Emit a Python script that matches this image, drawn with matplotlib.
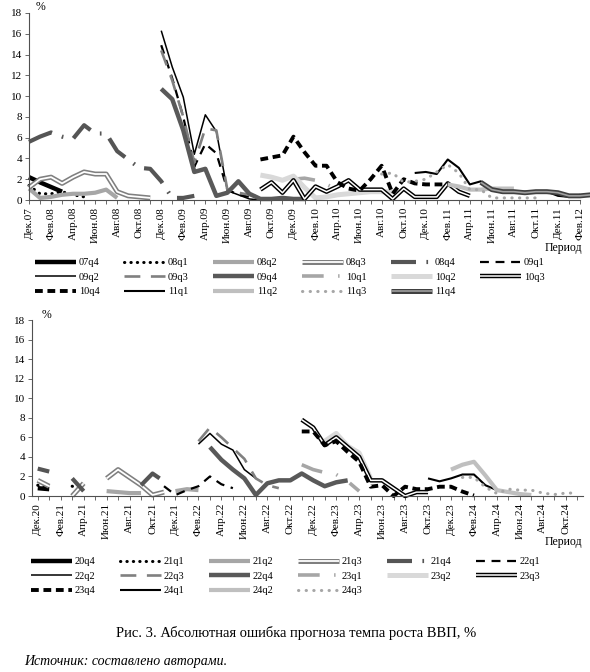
import numpy as np
import matplotlib
matplotlib.use('Agg')
import matplotlib.pyplot as plt
import matplotlib.patheffects as pe

plt.rcParams['font.family'] = ['Liberation Serif', 'DejaVu Serif']

# ---- top panel, months from Dec.07 (index 0) to Feb.12 (index 50)
top_names = ['07q4', '08q1', '08q2', '08q3', '08q4', '09q1', '09q2', '09q3', '09q4',
             '10q1', '10q2', '10q3', '10q4', '11q1', '11q2', '11q3', '11q4']
v07q4 = [2.2, 1.7, 1.25, 0.8]
v08q1 = [1.4, 0.6, 0.6, 0.8, 0.5, 0.3]
v08q2 = [1.1, 0.2, 0.3, 0.5, 0.6, 0.6, 0.7, 1.0, 0.2]
v08q3 = [1.2, 2.0, 2.2, 1.6, 2.2, 2.7, 2.5, 2.5, 0.8, 0.4, 0.3, 0.2]
v08q4 = [5.6, 6.1, 6.5, 6.1, 5.9, 7.2, 6.4, 6.4, 4.7, 3.9, 3.1, 3.0, 1.8, 0.2, 0.2, 0.4]
v09q1 = [14.9, 11.7, 8.0, 3.2, 5.4, 4.5, 1.0, 0.5, 0.3]
v09q2 = [16.3, 12.8, 9.9, 4.4, 8.2, 6.6, 0.9, 0.5, 0.1, 0.0]
v09q3 = [14.4, 11.5, 8.0, 3.6, 6.9, 6.7, 1.0, 0.7, 0.5, 0.3]
v09q4 = [10.7, 9.7, 6.7, 2.7, 3.0, 0.4, 0.7, 1.8, 0.6, 0.1, 0.1, 0.2, 0.1, 0.1]
v10q1 = [2.0, 2.1, 1.9, 1.5, 1.0]
v10q2 = [2.4, 2.2, 1.9, 2.3, 1.2, 0.2, 0.3, 0.5, 0.6, 0.7, 0.8, 0.8, 0.8]
v10q3 = [1.0, 1.7, 0.7, 1.9, 0.1, 1.3, 0.8, 1.3, 1.9, 1.0, 1.0, 1.0, 0.1, 1.1, 0.3,
         0.3, 0.3, 1.6, 0.8, 0.4]
v10q4 = [3.9, 4.1, 4.3, 6.1, 4.6, 3.3, 3.3, 1.7, 1.1, 0.9, 2.0, 3.3, 0.6, 2.0, 1.6,
         1.5, 1.5, 1.5]
v11q1 = [2.6, 2.7, 2.5, 3.9, 3.1, 1.5, 1.8, 1.0, 0.7, 0.7, 0.8, 0.8, 0.8, 0.4, 0.3, 0.5]
v11q2 = [1.5, 1.3, 1.0, 1.0, 1.1, 1.1, 1.1]
v11q3 = [2.5, 2.6, 1.7, 1.8, 2.0, 2.7, 3.4, 2.6, 1.0, 1.0, 0.2, 0.2, 0.2, 0.2, 0.2]
v11q4 = [1.7, 1.0, 0.8, 0.8, 0.7, 0.8, 0.8, 0.7, 0.4, 0.4, 0.5]
top_values = [v07q4, v08q1, v08q2, v08q3, v08q4, v09q1, v09q2, v09q3, v09q4,
              v10q1, v10q2, v10q3, v10q4, v11q1, v11q2, v11q3, v11q4]
top_first = [0, 0, 0, 0, 0, 12, 12, 12, 12, 24, 21, 21, 21, 35, 38, 32, 41]

# ---- bottom panel, months from Dec.20 (index 0) to Nov.24 (index 47)
bot_names = ['20q4', '21q1', '21q2', '21q3', '21q4', '22q1', '22q2', '22q3', '22q4',
             '23q1', '23q2', '23q3', '23q4', '24q1', '24q2', '24q3']
v20q4 = [0.8, 0.7]
v21q1 = [1.1, 0.9, None, 1.0, 0.6]
v21q2 = [0.5, 0.4, 0.3, 0.3, None, None, 0.5, 0.7, 0.6]
v21q3 = [1.6, 1.0, None, 0.0, 1.3, None, 1.8, 2.7, 1.9, 1.1, 0.1, 0.4]
v21q4 = [2.8, 2.5, None, 1.8, 0.5, None, None, None, None, 1.1, 2.3, 1.5]
v22q1 = [1.0, 0.1, 0.6, 1.0, 2.0, 1.2, 0.8]
v22q2 = [5.3, 6.4, 5.3, 4.7, 2.7, 1.8]
v22q3 = [5.6, 7.0, 6.0, 4.9, 3.8, 1.8, 1.1, 0.8]
v22q4 = [5.0, 3.7, 2.7, 1.8, 0.1, 1.3, 1.6, 1.6, 2.3, 1.6, 1.0, 1.4, 1.6]
v23q1 = [3.2, 2.7, 2.4, 2.2, 1.5, 0.5]
v23q2 = [5.6, 6.4, 5.1, 4.4, 1.8]
v23q3 = [7.8, 7.0, 5.2, 6.0, 5.0, 4.0, 1.6, 1.6, 0.8, 0.0, 0.4, 0.4]
v23q4 = [6.6, 6.6, 5.2, 5.6, 4.5, 3.5, 0.95, 1.1, 0.0, 0.95, 0.7, 0.7, 0.95, 0.95, 0.45, 0.05]
v24q1 = [1.8, 1.5, 1.8, 2.2, 2.2, 1.1, 0.6]
v24q2 = [2.7, 3.2, 3.5, 2.1, 0.6, 0.4, 0.2, 0.1]
v24q3 = [1.9, 1.9, 0.9, 0.25, 0.7, 0.6, 0.6, 0.3, 0.15, 0.3, 0.3]
bot_values = [v20q4, v21q1, v21q2, v21q3, v21q4, v22q1, v22q2, v22q3, v22q4,
              v23q1, v23q2, v23q3, v23q4, v24q1, v24q2, v24q3]
bot_first = [0, 0, 6, 0, 0, 11, 14, 14, 15, 23, 25, 23, 23, 34, 36, 37]

month_abbr = ['Янв', 'Фев', 'Мар', 'Апр', 'Май', 'Июн', 'Июл', 'Авг', 'Сен', 'Окт', 'Ноя', 'Дек']


def month_labels(year, n):
    # starts from December of given year
    out = []
    for k in range(n):
        m = (11 + k) % 12
        y = year + (11 + k) // 12
        out.append(f"{month_abbr[m]}.{y % 100:02d}")
    return out


top_labels = month_labels(2007, 51)
bot_labels = month_labels(2020, 48)

# line looks, same order in both panels (excel-like)
styles = [
    dict(color='black', lw=3.2),
    dict(color='black', lw=2.2, ls=(0, (0.1, 2.0)), dash_capstyle='round'),
    dict(color='#a6a6a6', lw=3.0),
    dict(color='white', lw=1.3, outer=('#7f7f7f', 3.6)),
    dict(color='#555555', lw=3.0, ls=(0, (6, 2.5, 0.4, 2.5))),
    dict(color='black', lw=1.6, ls=(0, (4, 3))),
    dict(color='black', lw=1.1),
    dict(color='#808080', lw=1.9, ls=(0, (6, 4))),
    dict(color='#595959', lw=3.2),
    dict(color='#a6a6a6', lw=2.6, ls=(0, (6, 4, 0.4, 4))),
    dict(color='#d9d9d9', lw=3.6),
    dict(color='white', lw=1.1, outer=('black', 3.2)),
    dict(color='black', lw=2.8, ls=(0, (2, 1.2))),
    dict(color='black', lw=1.5),
    dict(color='#bfbfbf', lw=3.0),
    dict(color='#a6a6a6', lw=2.2, ls=(0, (0.1, 2.4)), dash_capstyle='round'),
    dict(color='#a0a0a0', lw=1.2, outer=('#404040', 3.6)),
]


def draw(ax, first, vals, st, name):
    kw = dict(st)
    outer = kw.pop('outer', None)
    x = np.arange(first, first + len(vals))
    y = np.array(vals, dtype=float)
    line, = ax.plot(x, y, clip_on=False, solid_capstyle='butt', label=name, **kw)
    if outer:
        line.set_path_effects([pe.Stroke(linewidth=outer[1], foreground=outer[0]), pe.Normal()])
    return line


def style_axis(ax, labels):
    for s in ['top', 'right']:
        ax.spines[s].set_visible(False)
    for s in ['left', 'bottom']:
        ax.spines[s].set_color('#505050')
        ax.spines[s].set_linewidth(0.8)
    ax.set_ylim(0, 18)
    ax.set_yticks(range(0, 19, 2))
    ax.set_xticks(range(len(labels)))
    ax.set_xticklabels([l if i % 2 == 0 else '' for i, l in enumerate(labels)],
                       rotation=90, fontsize=8)
    ax.tick_params(axis='both', direction='out', length=3, width=0.6, color='#505050', pad=2)
    ax.tick_params(axis='y', labelsize=8)


def add_legend(fig, lines, x0, y0):
    n = len(lines)
    order = [i for c in range(6) for i in range(c, n, 6)]
    fig.legend([lines[i] for i in order], [lines[i].get_label() for i in order],
               ncol=6, loc='upper left', bbox_to_anchor=(x0, y0), frameon=False,
               borderpad=0, borderaxespad=0, handlelength=3.95, handletextpad=0.25,
               columnspacing=2.35, labelspacing=0.5, fontsize=7.5)


W, H = 590, 672
fig = plt.figure(figsize=(5.9, 6.72), dpi=100)

ax1 = fig.add_axes([29 / W, 1 - 200 / H, 551 / W, 187 / H])
lines1 = [draw(ax1, top_first[k], top_values[k], styles[k], top_names[k]) for k in range(len(top_names))]
ax1.set_xlim(0, 50)
style_axis(ax1, top_labels)

ax2 = fig.add_axes([32 / W, 1 - 496 / H, 551 / W, 176 / H])
lines2 = [draw(ax2, bot_first[k], bot_values[k], styles[k], bot_names[k]) for k in range(len(bot_names))]
ax2.set_xlim(-0.5, 47.5)
style_axis(ax2, bot_labels)

# axis captions
fig.text(40 / W, 1 - 7 / H, '%', fontsize=8.5, ha='center', va='center')
fig.text(47 / W, 1 - 315 / H, '%', fontsize=8.5, ha='center', va='center')
fig.text(582 / W, 1 - 248 / H, 'Период', fontsize=8.5, ha='right', va='center')
fig.text(582 / W, 1 - 542 / H, 'Период', fontsize=8.5, ha='right', va='center')

add_legend(fig, lines1, 35 / W, 1 - 258 / H)
add_legend(fig, lines2, 31 / W, 1 - 557 / H)

fig.text(296 / W, 1 - 633 / H, 'Рис. 3. Абсолютная ошибка прогноза темпа роста ВВП, %',
         fontsize=10.5, ha='center', va='center')
fig.text(24 / W, 1 - 661 / H, 'Источник: составлено авторами.', fontsize=10,
         style='italic', ha='left', va='center')

fig.savefig('out.png', dpi=100)
